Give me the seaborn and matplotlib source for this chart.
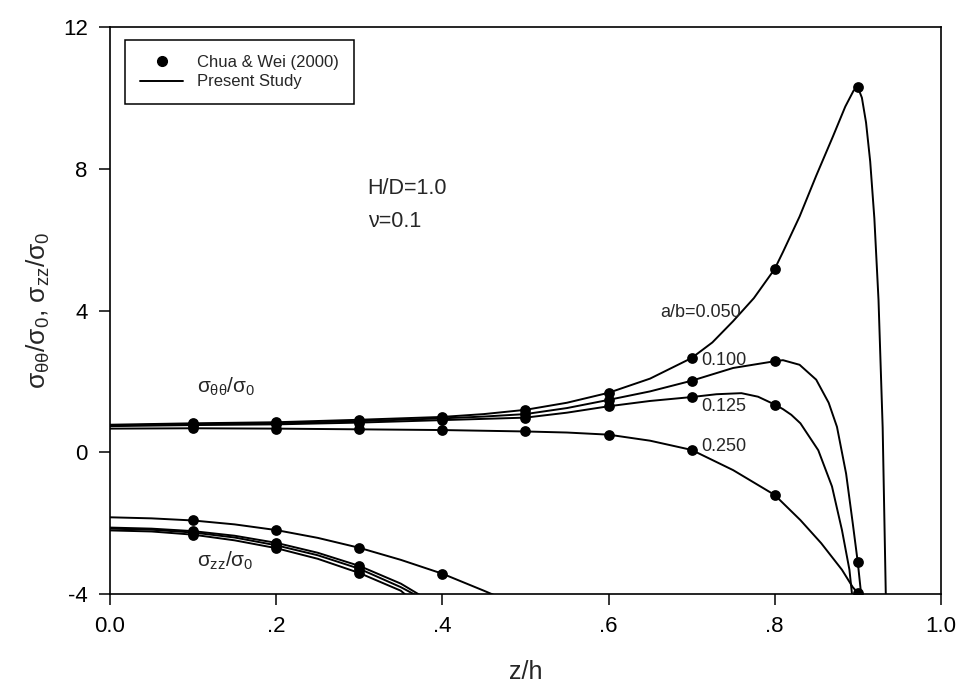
import numpy as np
import pandas as pd
import matplotlib
matplotlib.use("Agg")
import matplotlib.pyplot as plt
from matplotlib.lines import Line2D
import seaborn as sns

# ---------------- data ----------------
ab_labels = ["0.050", "0.100", "0.125", "0.250"]

# Present study: sigma_theta_theta / sigma_0
tt_z_050 = [0, 0.1, 0.2, 0.3, 0.4, 0.45, 0.5, 0.55, 0.6, 0.65, 0.7, 0.725, 0.75, 0.775, 0.8,
            0.81, 0.83, 0.85, 0.87, 0.885, 0.895, 0.9, 0.905, 0.91, 0.915, 0.92, 0.925,
            0.93, 0.934]
tt_v_050 = [0.78, 0.82, 0.85, 0.92, 1.0, 1.08, 1.2, 1.4, 1.68, 2.08, 2.66, 3.1, 3.7, 4.35, 5.17,
            5.65, 6.65, 7.8, 8.9, 9.75, 10.2, 10.3, 10.0, 9.3, 8.2, 6.6, 4.3,
            0.7, -4.3]

tt_z_100 = [0, 0.1, 0.2, 0.3, 0.4, 0.45, 0.5, 0.55, 0.6, 0.65, 0.7, 0.75, 0.8, 0.81, 0.83,
            0.85, 0.865, 0.875, 0.886, 0.894, 0.9, 0.905]
tt_v_100 = [0.76, 0.8, 0.82, 0.88, 0.96, 1.01, 1.08, 1.25, 1.48, 1.72, 2.02, 2.38, 2.57, 2.6, 2.47,
            2.05, 1.4, 0.72, -0.6, -2.0, -3.09, -4.2]

tt_z_125 = [0, 0.1, 0.2, 0.3, 0.4, 0.5, 0.55, 0.6, 0.65, 0.7, 0.73, 0.76, 0.78, 0.8, 0.81,
            0.82, 0.831, 0.8525, 0.869, 0.881, 0.89, 0.894]
tt_v_125 = [0.74, 0.77, 0.79, 0.84, 0.91, 0.98, 1.12, 1.3, 1.45, 1.56, 1.64, 1.67, 1.57, 1.35, 1.22,
            1.06, 0.82, 0.06, -0.96, -2.19, -3.31, -4.2]

tt_z_250 = [0, 0.1, 0.2, 0.3, 0.4, 0.5, 0.55, 0.6, 0.65, 0.7, 0.75, 0.8, 0.831, 0.856, 0.881,
            0.894, 0.9, 0.905]
tt_v_250 = [0.67, 0.68, 0.67, 0.65, 0.63, 0.59, 0.56, 0.5, 0.33, 0.07, -0.5, -1.2, -1.91, -2.56, -3.31,
            -3.8, -3.96, -4.2]

# Present study: sigma_zz / sigma_0
zz_z_250 = [0, 0.05, 0.1, 0.15, 0.2, 0.25, 0.3, 0.35, 0.4, 0.45, 0.465]
zz_v_250 = [-1.83, -1.86, -1.92, -2.03, -2.19, -2.41, -2.69, -3.03, -3.42, -3.9, -4.05]
zz_z_125 = [0, 0.05, 0.1, 0.15, 0.2, 0.25, 0.3, 0.35, 0.375]
zz_v_125 = [-2.12, -2.15, -2.22, -2.35, -2.55, -2.83, -3.2, -3.7, -4.05]
zz_z_100 = [0, 0.05, 0.1, 0.15, 0.2, 0.25, 0.3, 0.35, 0.37]
zz_v_100 = [-2.15, -2.18, -2.26, -2.4, -2.62, -2.9, -3.28, -3.8, -4.05]
zz_z_050 = [0, 0.05, 0.1, 0.15, 0.2, 0.25, 0.3, 0.35, 0.36]
zz_v_050 = [-2.2, -2.23, -2.32, -2.48, -2.7, -3.0, -3.4, -3.9, -4.1]

# Chua & Wei (2000) points
pt_z_tt = [0.1, 0.2, 0.3, 0.4, 0.5, 0.6, 0.7, 0.8, 0.9]
pt_tt_050 = [0.82, 0.85, 0.92, 1.0, 1.2, 1.68, 2.66, 5.17, 10.3]
pt_tt_100 = [0.8, 0.82, 0.88, 0.96, 1.08, 1.48, 2.02, 2.57, -3.09]
pt_tt_125 = [0.77, 0.79, 0.84, 0.91, 0.98, 1.3, 1.56, 1.35, np.nan]
pt_tt_250 = [0.68, 0.67, 0.65, 0.63, 0.59, 0.5, 0.07, -1.2, -3.96]

pt_z_zz = [0.1, 0.2, 0.3, 0.4]
pt_zz_250 = [-1.92, -2.19, -2.69, -3.42]
pt_zz_125 = [-2.22, -2.55, -3.2, np.nan]
pt_zz_100 = [-2.26, -2.62, -3.28, np.nan]
pt_zz_050 = [-2.32, -2.7, -3.4, np.nan]

x_ticks = [0, 0.2, 0.4, 0.6, 0.8, 1.0]
x_ticklabels = ["0.0", ".2", ".4", ".6", ".8", "1.0"]
y_ticks = [-4, 0, 4, 8, 12]

# ---------------- tables ----------------
curves = []
for name, z, v in [("tt050", tt_z_050, tt_v_050), ("tt100", tt_z_100, tt_v_100),
                   ("tt125", tt_z_125, tt_v_125), ("tt250", tt_z_250, tt_v_250),
                   ("zz250", zz_z_250, zz_v_250), ("zz125", zz_z_125, zz_v_125),
                   ("zz100", zz_z_100, zz_v_100), ("zz050", zz_z_050, zz_v_050)]:
    curves.append(pd.DataFrame({"z": z, "v": v, "curve": name}))
lines_df = pd.concat(curves, ignore_index=True)

pts = []
for z, v in [(pt_z_tt, pt_tt_050), (pt_z_tt, pt_tt_100), (pt_z_tt, pt_tt_125), (pt_z_tt, pt_tt_250),
             (pt_z_zz, pt_zz_250), (pt_z_zz, pt_zz_125), (pt_z_zz, pt_zz_100), (pt_z_zz, pt_zz_050)]:
    pts.append(pd.DataFrame({"z": z, "v": v}))
pts_df = pd.concat(pts, ignore_index=True).dropna()

# ---------------- figure ----------------
sns.set_theme(style="ticks")
plt.rcParams["font.family"] = ["Liberation Sans", "DejaVu Sans"]
plt.rcParams["mathtext.fontset"] = "custom"
plt.rcParams["mathtext.rm"] = "Liberation Sans"
plt.rcParams["mathtext.it"] = "Liberation Sans"
plt.rcParams["mathtext.bf"] = "Liberation Sans:bold"
plt.rcParams["axes.unicode_minus"] = False

fig = plt.figure(figsize=(9.61, 6.87), dpi=100)
ax = fig.add_axes([0.1145, 0.135, 0.8645, 0.826])

for name, sub in lines_df.groupby("curve", sort=False):
    sns.lineplot(data=sub, x="z", y="v", ax=ax, color="black", linewidth=1.4,
                 sort=False, estimator=None, legend=False)
sns.scatterplot(data=pts_df, x="z", y="v", ax=ax, color="black", s=60,
                edgecolor="black", linewidth=0, legend=False, zorder=5)

ax.set_xlim(0, 1.0)
ax.set_ylim(-4, 12)
ax.set_xticks(x_ticks)
ax.set_xticklabels(x_ticklabels)
ax.set_yticks(y_ticks)
ax.tick_params(direction="out", length=8, width=1.1, colors="black", labelsize=16, pad=8)
for sp in ax.spines.values():
    sp.set_color("black")
    sp.set_linewidth(1.2)

ax.set_xlabel("z/h", fontsize=18, labelpad=16)
ax.set_ylabel(r"$\sigma_{\theta\theta}/\sigma_0$, $\sigma_{zz}/\sigma_0$", fontsize=19, labelpad=8)

# annotations
ax.text(0.662, 3.95, "a/b=0.050", fontsize=13, va="center", ha="left")
ax.text(0.712, 2.58, "0.100", fontsize=13, va="center", ha="left")
ax.text(0.712, 1.29, "0.125", fontsize=13, va="center", ha="left")
ax.text(0.712, 0.17, "0.250", fontsize=13, va="center", ha="left")
ax.text(0.31, 7.45, "H/D=1.0", fontsize=15.5, va="center", ha="left")
ax.text(0.31, 6.5, "ν=0.1", fontsize=15.5, va="center", ha="left")
ax.text(0.105, 1.85, r"$\sigma_{\theta\theta}/\sigma_0$", fontsize=15, va="center", ha="left")
ax.text(0.105, -3.05, r"$\sigma_{zz}/\sigma_0$", fontsize=15, va="center", ha="left")

handles = [Line2D([], [], color="black", marker="o", linestyle="none", markersize=7),
           Line2D([], [], color="black", linewidth=1.4)]
leg = ax.legend(handles, ["Chua & Wei (2000)", "Present Study"], loc="upper left",
                bbox_to_anchor=(0.012, 0.985), fontsize=12, frameon=True, fancybox=False,
                framealpha=1, edgecolor="black", borderpad=0.9, handlelength=2.6,
                labelspacing=0.25, borderaxespad=0.3)
leg.get_frame().set_linewidth(1.1)

fig.savefig("out.png", dpi=100)
